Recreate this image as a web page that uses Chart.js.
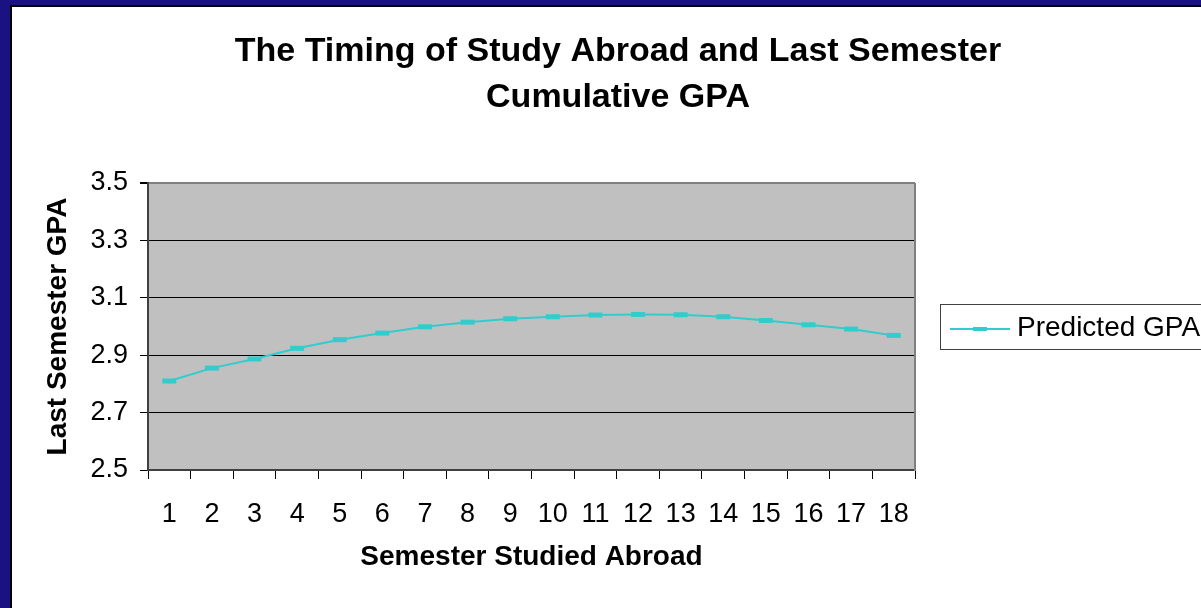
<!DOCTYPE html>
<html>
<head>
<meta charset="utf-8">
<script src="https://cdn.jsdelivr.net/npm/chart.js@4"></script>
<style>
  html, body { margin: 0; padding: 0; }
  body { width: 1201px; height: 608px; background: #1a1282; position: relative; overflow: hidden; }
  /* moldura do slide: fundo branco com sombra escura no canto */
  #fundo { position: absolute; left: 10px; top: 5px; right: 0; bottom: 0; background: #fff;
           border-left: 2px solid #000; border-top: 2px solid #000; }
  #grafico { position: absolute; left: 0; top: 0; width: 1201px; height: 608px; }
</style>
</head>
<body>
<div id="fundo"></div>
<canvas id="grafico" width="1201" height="608"></canvas>
<script>
// Eixo X: semestre em que o aluno estudou fora
const semestres = ['1', '2', '3', '4', '5', '6', '7', '8', '9', '10', '11', '12', '13', '14', '15', '16', '17', '18'];
// Eixo Y: GPA previsto no último semestre
const gpaPrevisto = [2.81, 2.855, 2.887, 2.924, 2.954, 2.977, 2.999, 3.015, 3.027, 3.034, 3.040, 3.042, 3.041, 3.034, 3.021, 3.006, 2.991, 2.969];
const ticksGpa = [2.5, 2.7, 2.9, 3.1, 3.3, 3.5];

const tituloLinhas = ['The Timing of Study Abroad and Last Semester', 'Cumulative GPA'];
const nomeSerie = 'Predicted GPA';

const corSerie = '#33cccc';
const fonte = '"Liberation Sans", Arial, sans-serif';

// Fundo cinza da área de plotagem + borda direita
const fundoPlotagem = {
    id: 'fundoPlotagem',
    beforeDraw(chart) {
        const { ctx, chartArea: a } = chart;
        ctx.save();
        ctx.fillStyle = '#c0c0c0';
        ctx.fillRect(a.left, a.top, a.right - a.left, a.bottom - a.top);
        ctx.restore();
    },
    afterDraw(chart) {
        const { ctx, chartArea: a } = chart;
        ctx.save();
        ctx.strokeStyle = '#808080';
        ctx.lineWidth = 2;
        ctx.beginPath();
        ctx.moveTo(a.right, a.top);
        ctx.lineTo(a.right, a.bottom + 1);
        ctx.stroke();
        ctx.restore();
    }
};

// Título em duas linhas, centralizado sobre o gráfico
const tituloGrafico = {
    id: 'tituloGrafico',
    afterDraw(chart) {
        const ctx = chart.ctx;
        ctx.save();
        ctx.fillStyle = '#000';
        ctx.font = 'bold 34px ' + fonte;
        ctx.textAlign = 'center';
        ctx.textBaseline = 'alphabetic';
        ctx.fillText(tituloLinhas[0], 618, 61);
        ctx.fillText(tituloLinhas[1], 618, 107);
        ctx.restore();
    }
};

// Legenda com moldura à direita, no estilo do Excel
const legendaCaixa = {
    id: 'legendaCaixa',
    afterDraw(chart) {
        const ctx = chart.ctx;
        const ds = chart.data.datasets[0];
        ctx.save();
        ctx.strokeStyle = '#404040';
        ctx.lineWidth = 1;
        ctx.strokeRect(940.5, 304.5, 300, 45);
        ctx.strokeStyle = ds.borderColor;
        ctx.lineWidth = 2;
        ctx.beginPath();
        ctx.moveTo(950, 329);
        ctx.lineTo(1010, 329);
        ctx.stroke();
        ctx.fillStyle = ds.borderColor;
        ctx.fillRect(973, 327, 14, 4);
        ctx.fillStyle = '#000';
        ctx.font = '28px ' + fonte;
        ctx.textAlign = 'left';
        ctx.textBaseline = 'alphabetic';
        ctx.fillText(ds.label, 1017, 336);
        ctx.restore();
    }
};

const ctx = document.getElementById('grafico').getContext('2d');

new Chart(ctx, {
    type: 'line',
    data: {
        labels: semestres,
        datasets: [{
            label: nomeSerie,
            data: gpaPrevisto,
            borderColor: corSerie,
            borderWidth: 2,
            pointStyle: 'line',
            pointRadius: 7,
            pointBorderWidth: 5,
            pointBorderColor: corSerie,
            pointBackgroundColor: corSerie,
            tension: 0,
            fill: false
        }]
    },
    options: {
        responsive: false,
        animation: false,
        events: [],
        layout: { padding: { left: 0, top: 183, right: 286, bottom: 0 } },
        plugins: {
            legend: { display: false },
            title: { display: false },
            tooltip: { enabled: false }
        },
        scales: {
            x: {
                offset: true,
                afterFit: s => { s.height = 138; },
                grid: {
                    offset: true,
                    drawOnChartArea: false,
                    drawTicks: true,
                    tickLength: 9,
                    tickColor: '#000',
                    lineWidth: 1
                },
                border: { display: true, color: '#404040', width: 2 },
                ticks: {
                    color: '#000',
                    font: { family: fonte, size: 27 },
                    padding: 19,
                    maxRotation: 0,
                    autoSkip: false
                },
                title: {
                    display: true,
                    text: 'Semester Studied Abroad',
                    color: '#000',
                    font: { family: fonte, size: 28, weight: 'bold' },
                    padding: { top: 0, bottom: 34 }
                }
            },
            y: {
                min: 2.5,
                max: 3.5,
                afterFit: s => { s.width = 148; },
                afterBuildTicks: s => { s.ticks = ticksGpa.map(v => ({ value: v })); },
                grid: {
                    color: c => (c.tick && c.tick.value === 3.5) ? '#808080' : '#000',
                    lineWidth: c => (c.tick && c.tick.value === 3.5) ? 2 : 1,
                    tickColor: '#000',
                    tickLength: 8,
                    drawTicks: true
                },
                border: { display: true, color: '#404040', width: 2 },
                ticks: {
                    color: '#000',
                    font: { family: fonte, size: 27 },
                    padding: 12,
                    callback: v => Number(v).toFixed(1)
                },
                title: {
                    display: true,
                    text: 'Last Semester GPA',
                    color: '#000',
                    font: { family: fonte, size: 28, weight: 'bold' },
                    padding: { top: 41, bottom: 0 }
                }
            }
        }
    },
    plugins: [fundoPlotagem, tituloGrafico, legendaCaixa]
});
</script>
</body>
</html>
